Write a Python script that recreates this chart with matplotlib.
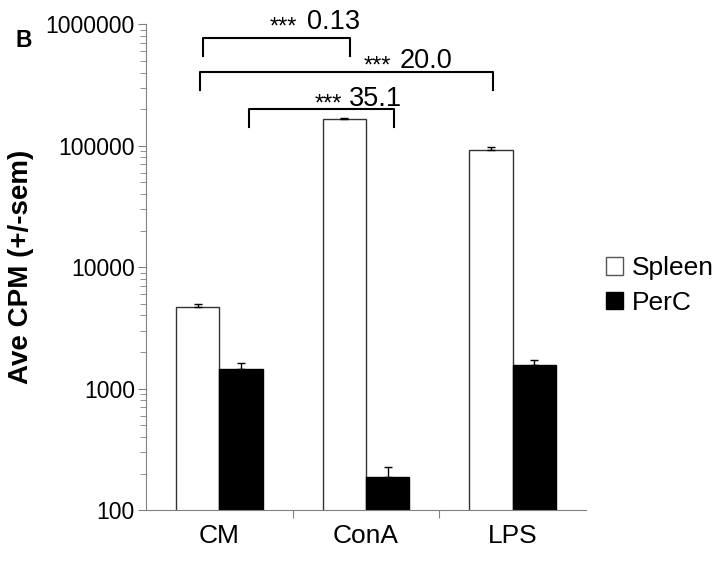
import numpy as np
import matplotlib.pyplot as plt

plt.rcParams['font.family'] = ['Liberation Sans', 'DejaVu Sans']

# donnees
groups = ["CM", "ConA", "LPS"]
spleen = [4700, 165000, 93000]
spleen_err = [250, 3000, 5000]
perc = [1450, 188, 1570]
perc_err = [160, 40, 140]

# comparaisons (x gauche, x droite, y barre, y pied)
comp_x1 = [-0.11, -0.13, 0.20]
comp_x2 = [0.89, 1.87, 1.19]
comp_y = [767000, 403000, 200000]
comp_leg = [546000, 286000, 142000]
# position des textes (fin des etoiles, debut du nombre, ligne de base)
star_x = [0.532, 1.174, 0.84]
num_x = [0.60, 1.229, 0.887]
txt_y = [910000, 434000, 211000]
comp_labels = ["0.13", "20.0", "35.1"]

fig = plt.figure(figsize=(7.21, 5.63), dpi=100)
ax = fig.add_axes([0.2025, 0.094, 0.61, 0.863])

x = np.arange(len(groups))
w = 0.295
ax.bar(x - w / 2, spleen, w, color="white", edgecolor="#333333", linewidth=1.0,
       yerr=[np.zeros(3), spleen_err], capsize=3,
       error_kw=dict(elinewidth=1, capthick=1), label="Spleen")
ax.bar(x + w / 2, perc, w, color="black", edgecolor="black", linewidth=1.0,
       yerr=[np.zeros(3), perc_err], capsize=3,
       error_kw=dict(elinewidth=1, capthick=1), label="PerC")

ax.set_yscale("log")
ax.set_ylim(100, 1000000)
ax.set_xlim(-0.5, 2.5)
ax.set_yticks([100, 1000, 10000, 100000, 1000000])
ax.set_yticklabels(["100", "1000", "10000", "100000", "1000000"], fontsize=16.5)
ax.set_xticks([0.5, 1.5])
ax.set_xticklabels([])
ax.set_xticks(x, minor=True)
ax.set_xticklabels(groups, minor=True, fontsize=19)
ax.tick_params(axis="x", which="minor", length=0, pad=10)
ax.tick_params(axis="x", which="major", length=6, color="gray")
ax.tick_params(axis="y", which="both", color="gray")
ax.tick_params(axis="y", which="major", length=6, pad=2)
ax.tick_params(axis="y", which="minor", length=4)
for s in ["top", "right"]:
    ax.spines[s].set_visible(False)
for s in ["left", "bottom"]:
    ax.spines[s].set_color("gray")

ax.set_ylabel("Ave CPM (+/-sem)", fontsize=20, fontweight="bold")
ax.yaxis.set_label_coords(-0.255, 0.5)

# crochets de comparaison
for i in range(3):
    ax.plot([comp_x1[i], comp_x1[i], comp_x2[i], comp_x2[i]],
            [comp_leg[i], comp_y[i], comp_y[i], comp_leg[i]],
            color="black", linewidth=1.5, clip_on=False)
    ax.annotate("***", (star_x[i], txt_y[i]), xytext=(0, -3),
                textcoords="offset points", ha="right", va="baseline",
                fontsize=17, annotation_clip=False)
    ax.text(num_x[i], txt_y[i], comp_labels[i], ha="left",
            va="baseline", fontsize=19.5, clip_on=False)

fig.text(0.022, 0.9165, "B", fontsize=16.5, fontweight="bold")

leg = fig.legend(loc="upper left", bbox_to_anchor=(0.84, 0.545), frameon=False,
                 fontsize=19, handlelength=0.65, handleheight=0.65,
                 handletextpad=0.35, labelspacing=0.4, borderpad=0,
                 borderaxespad=0)
leg.legend_handles[0].set_edgecolor("#555555")

fig.savefig("out.png", dpi=100)
